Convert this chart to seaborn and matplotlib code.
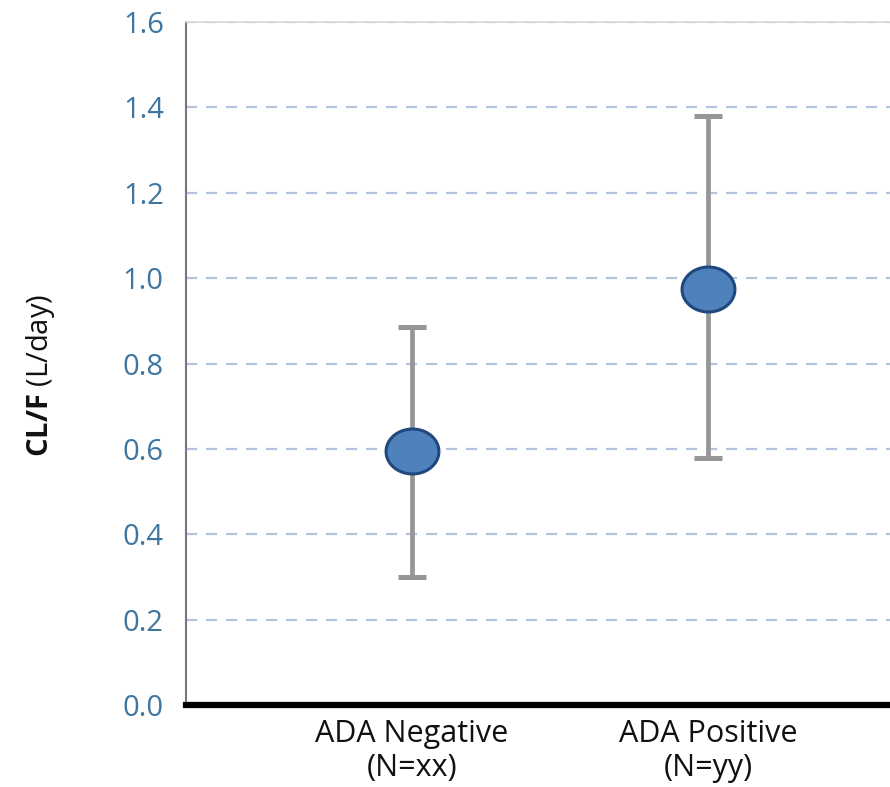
import numpy as np
import pandas as pd
import matplotlib
matplotlib.use("Agg")
import matplotlib.pyplot as plt
import seaborn as sns

# Clearance estimates per ADA status
groups = ["ADA Negative\n(N=xx)", "ADA Positive\n(N=yy)"]
cl_mean = [0.595, 0.975]
cl_low = [0.30, 0.578]
cl_high = [0.885, 1.38]
y_ticks = [0.0, 0.2, 0.4, 0.6, 0.8, 1.0, 1.2, 1.4, 1.6]

sns.set_theme(style="white")
plt.rcParams["font.family"] = ["Open Sans", "DejaVu Sans"]
plt.rcParams["mathtext.fontset"] = "custom"
plt.rcParams["mathtext.rm"] = "Open Sans"
plt.rcParams["mathtext.bf"] = "Open Sans:bold"

df = pd.DataFrame({"group": groups, "cl": cl_mean,
                   "lo": cl_low, "hi": cl_high})
df["x"] = np.arange(len(df))

fig = plt.figure(figsize=(8.9, 7.87), dpi=100)
ax = fig.add_axes([0.209, 0.1042, 0.791, 0.8678])

# gridlines
for t in y_ticks[1:]:
    ax.axhline(t, color="#b4c4de", lw=1.6, ls=(0, (5, 4)), zorder=0)

# error bars
yerr = np.vstack([df["cl"] - df["lo"], df["hi"] - df["cl"]])
ax.errorbar(df["x"], df["cl"], yerr=yerr, fmt="none", ecolor="#969696",
            elinewidth=3.4, capsize=10, capthick=3.6, zorder=2)

# ellipse marker
th = np.linspace(0, 2 * np.pi, 60)
ell = np.column_stack([np.cos(th), 0.85 * np.sin(th)])
sns.scatterplot(data=df, x="x", y="cl", ax=ax, marker=ell, s=1450,
                color="#4f81bd", edgecolor="#1f497d", linewidth=2.2,
                zorder=3, legend=False)

ax.set_xlim(-0.764, 1.615)
ax.set_ylim(0, 1.6)
ax.set_yticks(y_ticks)
ax.set_yticklabels([f"{t:.1f}" for t in y_ticks], color="#3f76a0", fontsize=21)
ax.set_xticks(df["x"])
ax.set_xticklabels(df["group"], fontsize=22, color="#111111", linespacing=1.2)
ax.tick_params(axis="y", length=0, pad=16)
ax.tick_params(axis="x", length=0, pad=10)
ax.set_xlabel("")
ax.set_ylabel(r"$\bf{CL/F}$ (L/day)", fontsize=21, color="#111111")
ax.yaxis.set_label_coords(-0.183, 0.483)

ax.spines["right"].set_visible(False)
ax.spines["top"].set_color("#d9d9d9")
ax.spines["top"].set_linewidth(1.2)
ax.spines["left"].set_color("#777777")
ax.spines["left"].set_linewidth(1.5)
ax.spines["bottom"].set_color("black")
ax.spines["bottom"].set_linewidth(4.5)

fig.savefig("out.png", dpi=100)
